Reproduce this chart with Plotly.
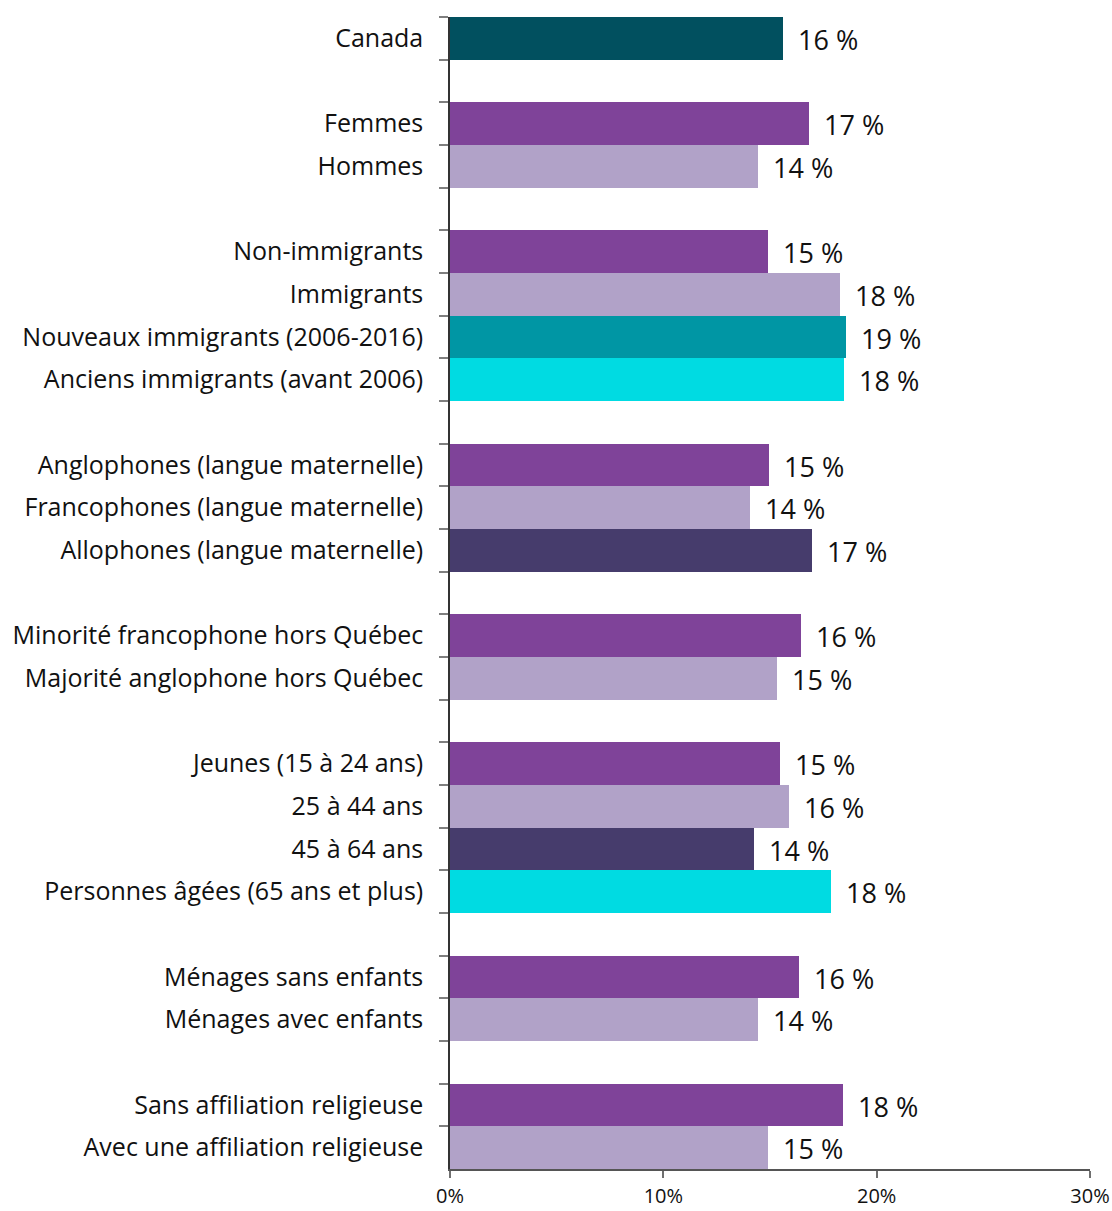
import plotly.graph_objects as go

# rows top to bottom; None marks the blank slot between groups
categories = [
    "Canada", None,
    "Femmes", "Hommes", None,
    "Non-immigrants", "Immigrants", "Nouveaux immigrants (2006-2016)", "Anciens immigrants (avant 2006)", None,
    "Anglophones (langue maternelle)", "Francophones (langue maternelle)", "Allophones (langue maternelle)", None,
    "Minorité francophone hors Québec", "Majorité anglophone hors Québec", None,
    "Jeunes (15 à 24 ans)", "25 à 44 ans", "45 à 64 ans", "Personnes âgées (65 ans et plus)", None,
    "Ménages sans enfants", "Ménages avec enfants", None,
    "Sans affiliation religieuse", "Avec une affiliation religieuse",
]
values = [
    15.63, None,
    16.85, 14.42, None,
    14.89, 18.26, 18.54, 18.49, None,
    14.93, 14.04, 16.95, None,
    16.43, 15.31, None,
    15.49, 15.87, 14.23, 17.84, None,
    16.34, 14.42, None,
    18.40, 14.89,
]
value_labels = [
    "16 %", None,
    "17 %", "14 %", None,
    "15 %", "18 %", "19 %", "18 %", None,
    "15 %", "14 %", "17 %", None,
    "16 %", "15 %", None,
    "15 %", "16 %", "14 %", "18 %", None,
    "16 %", "14 %", None,
    "18 %", "15 %",
]
colors = [
    "#01505F", None,
    "#7F4399", "#B1A2C8", None,
    "#7F4399", "#B1A2C8", "#0096A4", "#00DBE2", None,
    "#7F4399", "#B1A2C8", "#463C6C", None,
    "#7F4399", "#B1A2C8", None,
    "#7F4399", "#B1A2C8", "#463C6C", "#00DBE2", None,
    "#7F4399", "#B1A2C8", None,
    "#7F4399", "#B1A2C8",
]

# blank slots need unique names on a category axis
y_names = []
gap = 0
for c in categories:
    if c is None:
        gap += 1
        y_names.append(" " * gap)
    else:
        y_names.append(c)

FONT = "Open Sans"

fig = go.Figure()
fig.add_trace(
    go.Bar(
        x=[v if v is not None else 0 for v in values],
        y=y_names,
        orientation="h",
        marker={"color": [c or "rgba(0,0,0,0)" for c in colors], "line": {"width": 0}},
        hoverinfo="skip",
    )
)

for name, v, lab in zip(y_names, values, value_labels):
    if v is None:
        continue
    fig.add_annotation(
        x=v, y=name, text=lab, showarrow=False,
        xanchor="left", yanchor="middle", xshift=13, yshift=-1,
        font={"family": FONT, "size": 27, "color": "#111111"},
    )

fig.update_layout(
    width=1112,
    height=1211,
    margin={"l": 450, "r": 22, "t": 17, "b": 42},
    paper_bgcolor="white",
    plot_bgcolor="white",
    bargap=0,
    showlegend=False,
    font={"family": FONT, "color": "#111111"},
)
fig.update_yaxes(
    type="category",
    categoryorder="array",
    categoryarray=y_names,
    range=[len(y_names) - 0.5, -0.5],
    ticks="outside",
    tickson="boundaries",
    ticklen=9,
    tickwidth=1.5,
    tickcolor="#7f7f7f",
    showline=True,
    linecolor="#333333",
    linewidth=1.5,
    showgrid=False,
    zeroline=False,
    automargin=False,
    ticklabelstandoff=20,
    tickfont={"family": FONT, "size": 25, "color": "#111111"},
)
fig.update_xaxes(
    range=[0, 30],
    tickvals=[0, 10, 20, 30],
    ticktext=["0%", "10%", "20%", "30%"],
    ticks="outside",
    ticklen=7,
    tickwidth=1.5,
    tickcolor="#6f6f6f",
    showline=True,
    linecolor="#555555",
    linewidth=1.5,
    showgrid=False,
    zeroline=False,
    automargin=False,
    ticklabelstandoff=1,
    tickfont={"family": FONT, "size": 20, "color": "#111111"},
)

# drop the default 8px body margin so the page is exactly the figure size
fig.write_html(
    "out.html",
    config={"displayModeBar": False},
    post_script="document.body.style.margin='0';",
)
